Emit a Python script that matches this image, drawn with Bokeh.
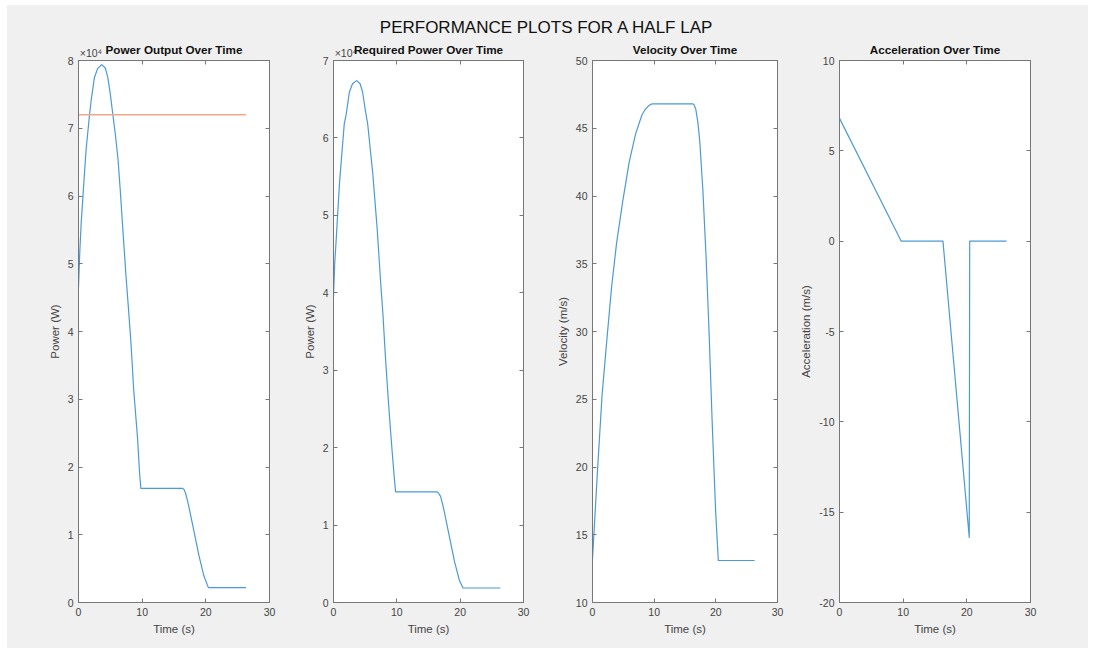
from bokeh.plotting import figure
from bokeh.models import (Range1d, LinearAxis, FixedTicker, CustomJSTickFormatter, Spacer)
from bokeh.core.properties import value
from bokeh.layouts import row, column
from bokeh.embed import file_html
from bokeh.resources import INLINE

# ---------------- data ----------------
main_title = "PERFORMANCE PLOTS FOR A HALF LAP"
time_ticks = [0, 10, 20, 30]

t_power_out = [0, 0.2, 0.42, 0.94, 1.2, 1.7, 2.0, 2.5, 3.0, 3.65, 4.2, 4.6, 5.0, 5.4,
               5.8, 6.2, 6.55, 6.9, 7.45, 7.8, 8.2, 8.7, 9.0, 9.27, 9.6, 9.8, 16.3,
               16.55, 16.8, 17.05, 17.3, 18.1, 18.9, 19.7, 20.4, 26.3]
power_out = [46500, 51700, 56000, 63400, 66900, 71700, 74200, 77500, 78800, 79400,
             78900, 77500, 75000, 72000, 69000, 65500, 61000, 56000, 48300, 44000,
             38900, 31000, 27500, 24300, 19000, 16850, 16850, 16700, 16200, 15300,
             14300, 10700, 7000, 3900, 2200, 2200]
t_power_limit = [0, 26.3]
power_limit = [72000, 72000]

t_power_req = [0, 0.2, 0.42, 0.94, 1.2, 1.7, 2.0, 2.5, 3.0, 3.65, 4.2, 4.6, 5.0, 5.4,
               5.8, 6.2, 6.55, 6.9, 7.45, 7.8, 8.2, 8.7, 9.0, 9.27, 9.6, 9.8, 16.3,
               16.55, 16.9, 17.2, 17.5, 18.3, 19.1, 19.9, 20.45, 26.35]
power_req = [39500, 43900, 46800, 54100, 56800, 61800, 63000, 65900, 67000, 67400,
             67000, 65900, 63700, 61800, 58600, 55400, 51800, 48200, 41300, 37300,
             31700, 25600, 22300, 19400, 16100, 14300, 14300, 14180, 13700, 12800,
             11700, 8500, 5300, 2800, 1870, 1870]

t_vel = [0, 0.78, 1.55, 2.33, 3.1, 3.9, 4.9, 5.95, 7.0, 8.03, 8.5, 9.07, 9.4, 9.7,
         16.3, 16.5, 16.75, 17.1, 17.4, 17.9, 18.4, 18.9, 19.4, 19.95, 20.4, 26.3]
velocity = [13.2, 19.5, 25.3, 29.4, 33.3, 36.5, 39.6, 42.5, 44.6, 46.0, 46.35, 46.65,
            46.75, 46.8, 46.8, 46.7, 46.4, 45.4, 44.0, 40.4, 35.7, 30.0, 23.4, 16.9,
            13.1, 13.1]

t_acc = [0, 9.7, 16.25, 20.38, 20.45, 26.25]
acceleration = [6.8, 0, 0, -16.4, 0, 0]

power_out_ticks = [0, 10000, 20000, 30000, 40000, 50000, 60000, 70000, 80000]
power_req_ticks = [0, 10000, 20000, 30000, 40000, 50000, 60000, 70000]
vel_ticks = [10, 15, 20, 25, 30, 35, 40, 45, 50]
acc_ticks = [-20, -15, -10, -5, 0, 5, 10]
exponent_text = "×10⁴"

# ---------------- style ----------------
FONT = "Liberation Sans"
BG = "#f0f0f0"
AX = "#777777"
TXT = "#444444"
BLUE = "#4a9ad6"
ORANGE = "#f0a88a"
FH = 610
FRAME_H = 542


def style_axis(ax, ticks, labels=True, fmt=None):
    ax.ticker = FixedTicker(ticks=ticks)
    ax.major_tick_in = 4
    ax.major_tick_out = 0
    ax.minor_tick_line_color = None
    ax.axis_line_color = AX
    ax.major_tick_line_color = AX
    if labels:
        ax.major_label_text_font = FONT
        ax.major_label_text_font_size = "10.5px"
        ax.major_label_text_color = TXT
        ax.major_label_standoff = 5
        ax.axis_label_text_font = FONT
        ax.axis_label_text_font_size = "11.5px"
        ax.axis_label_text_font_style = "normal"
        ax.axis_label_text_color = TXT
        ax.axis_label_standoff = 4
        ax.formatter = fmt if fmt is not None else CustomJSTickFormatter(
            code="return tick.toString();")
    else:
        ax.formatter = CustomJSTickFormatter(code="return '';")
        ax.major_label_text_font_size = "1px"
        ax.major_label_text_color = None
        ax.major_label_standoff = 0
        ax.axis_label_standoff = 0


def make_fig(width, left, right, title, yr, yticks, ylabel, fmt=None, show_exp=False,
             exp_at=1.95):
    p = figure(width=width, height=FH, output_backend="svg", toolbar_location=None,
               x_range=Range1d(0, 30), y_range=Range1d(*yr),
               min_border_left=left, min_border_right=right,
               min_border_top=22, min_border_bottom=FH - 22 - FRAME_H,
               background_fill_color="white", border_fill_color=BG,
               outline_line_color=AX, title=None)
    p.grid.visible = False
    style_axis(p.xaxis[0], time_ticks)
    style_axis(p.yaxis[0], yticks, fmt=fmt)
    p.xaxis[0].axis_label = "Time (s)"
    p.yaxis[0].axis_label = ylabel
    ra = LinearAxis()
    style_axis(ra, yticks, labels=False)
    p.add_layout(ra, "right")
    ta = LinearAxis()
    style_axis(ta, time_ticks, labels=False)
    p.add_layout(ta, "above")
    # second top axis: carries the x10^4 multiplier and the subplot title
    ea = LinearAxis(ticker=FixedTicker(ticks=[exp_at]),
                    formatter=CustomJSTickFormatter(code="return '%s';" % exponent_text),
                    major_tick_in=0, major_tick_out=0, minor_tick_line_color=None,
                    axis_line_color=None, major_tick_line_color=None,
                    major_label_standoff=2,
                    major_label_text_font=FONT, major_label_text_font_size="10.5px",
                    major_label_text_color=TXT if show_exp else None,
                    axis_label=title, axis_label_standoff=-12 if show_exp else 5,
                    axis_label_text_font=FONT, axis_label_text_font_size="11.7px",
                    axis_label_text_font_style="bold", axis_label_text_color="#111111")
    p.add_layout(ea, "above")
    return p


p1 = make_fig(293, 71, 31, "Power Output Over Time", (0, 80000), power_out_ticks,
              "Power (W)", CustomJSTickFormatter(code="return (tick/10000).toFixed(0);"),
              show_exp=True, exp_at=1.96)
p1.line(t_power_out, power_out, line_color=BLUE, line_width=1.2, line_join="round")
p1.line(t_power_limit, power_limit, line_color=ORANGE, line_width=1.5)

p2 = make_fig(253, 31, 30, "Required Power Over Time", (0, 70000), power_req_ticks,
              "Power (W)", CustomJSTickFormatter(code="return (tick/10000).toFixed(0);"),
              show_exp=True, exp_at=1.95)
p2.line(t_power_req, power_req, line_color=BLUE, line_width=1.2, line_join="round")

p3 = make_fig(240, 31, 16, "Velocity Over Time", (10, 50), vel_ticks, "Velocity (m/s)")
p3.line(t_vel, velocity, line_color=BLUE, line_width=1.2, line_join="round")

p4 = make_fig(295, 46, 58, "Acceleration Over Time", (-20, 10), acc_ticks,
              "Acceleration (m/s)")
p4.line(t_acc, acceleration, line_color=BLUE, line_width=1.2, line_join="round")

# main title strip
tf = figure(width=1081, height=33, output_backend="svg", toolbar_location=None,
            x_range=Range1d(0, 1081), y_range=Range1d(0, 33), title=None,
            x_axis_type=None, y_axis_type=None,
            min_border=0, border_fill_color=BG, background_fill_color=BG,
            outline_line_color=None)
tf.grid.visible = False
tf.text(x=[539.5], y=[11], text=[main_title], text_align="center",
        text_baseline="middle", text_font=value(FONT), text_font_size="17px",
        text_color="#111111")

inner = column(tf, row(p1, p2, p3, p4, spacing=0, styles={"background-color": BG}),
               spacing=0, styles={"background-color": BG})
layout = column(Spacer(width=1094, height=5),
                row(Spacer(width=7, height=643), inner, spacing=0), spacing=0)

open("out.html", "w").write(file_html(layout, INLINE))
